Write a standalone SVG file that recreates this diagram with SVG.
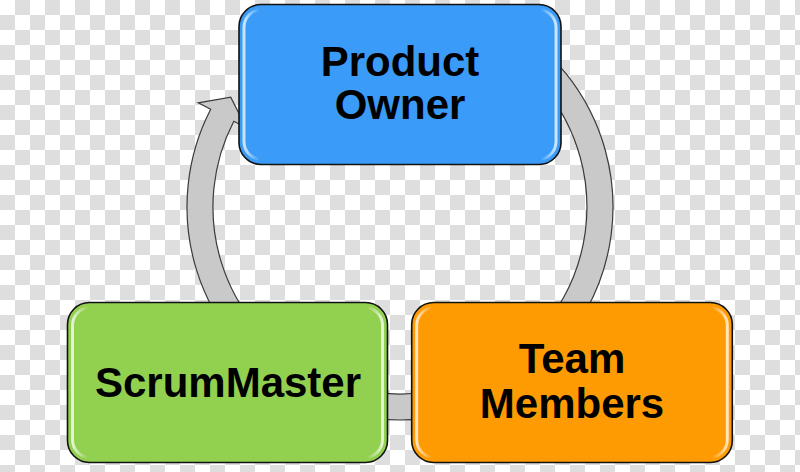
<svg xmlns="http://www.w3.org/2000/svg" width="800" height="472" viewBox="0 0 800 472">
  <defs>
    <pattern id="chk" width="30" height="30" patternUnits="userSpaceOnUse">
      <rect width="30" height="30" fill="#ffffff"/>
      <rect x="15" y="0" width="15" height="15" fill="#dedede"/>
      <rect x="0" y="15" width="15" height="15" fill="#dedede"/>
    </pattern>
    <linearGradient id="gloss" x1="0" y1="0" x2="1" y2="0">
      <stop offset="0" stop-color="#ffffff" stop-opacity="0.75"/>
      <stop offset="0.05" stop-color="#ffffff" stop-opacity="0"/>
      <stop offset="0.95" stop-color="#ffffff" stop-opacity="0"/>
      <stop offset="1" stop-color="#ffffff" stop-opacity="0.75"/>
    </linearGradient>
  </defs>
  <style>
    .box { stroke: #111111; stroke-width: 1.6; }
    .gl { fill: none; stroke: url(#gloss); stroke-width: 3; }
    .lbl { font-family: "Liberation Sans", Arial, sans-serif; font-weight: bold; font-size: 42px; fill: #000000; text-anchor: middle; }
    .ring { fill: #c9c9c9; stroke: #3a3a3a; stroke-width: 1.2; stroke-linejoin: miter; }
  </style>
  <rect width="800" height="472" fill="url(#chk)"/>
  <g id="connectors">
    <path class="ring" d="M506.5,22.5 A213,213 0 1 1 210.7,109.3 L198.3,102.9 L230.7,97.2 L246.3,127.7 L233.8,121.2 A187,187 0 1 0 493.5,45.1 Z"/>
  </g>
  <g id="product-owner">
    <rect class="box" x="239" y="4.5" width="322" height="160" rx="22" fill="#3a9cf8"/>
    <rect class="gl" x="244" y="9.5" width="312" height="150" rx="18"/>
    <text class="lbl" x="400" y="76">Product</text>
    <text class="lbl" x="400" y="119">Owner</text>
  </g>
  <g id="scrummaster">
    <rect class="box" x="67.5" y="302.5" width="320" height="160" rx="22" fill="#92d050"/>
    <rect class="gl" x="72.5" y="307.5" width="310" height="150" rx="18"/>
    <text class="lbl" x="228" y="397">ScrumMaster</text>
  </g>
  <g id="team-members">
    <rect class="box" x="411.7" y="302.5" width="320.6" height="160" rx="22" fill="#fe9a02"/>
    <rect class="gl" x="416.7" y="307.5" width="310.6" height="150" rx="18"/>
    <text class="lbl" x="572" y="373">Team</text>
    <text class="lbl" x="572" y="417.5">Members</text>
  </g>
</svg>
